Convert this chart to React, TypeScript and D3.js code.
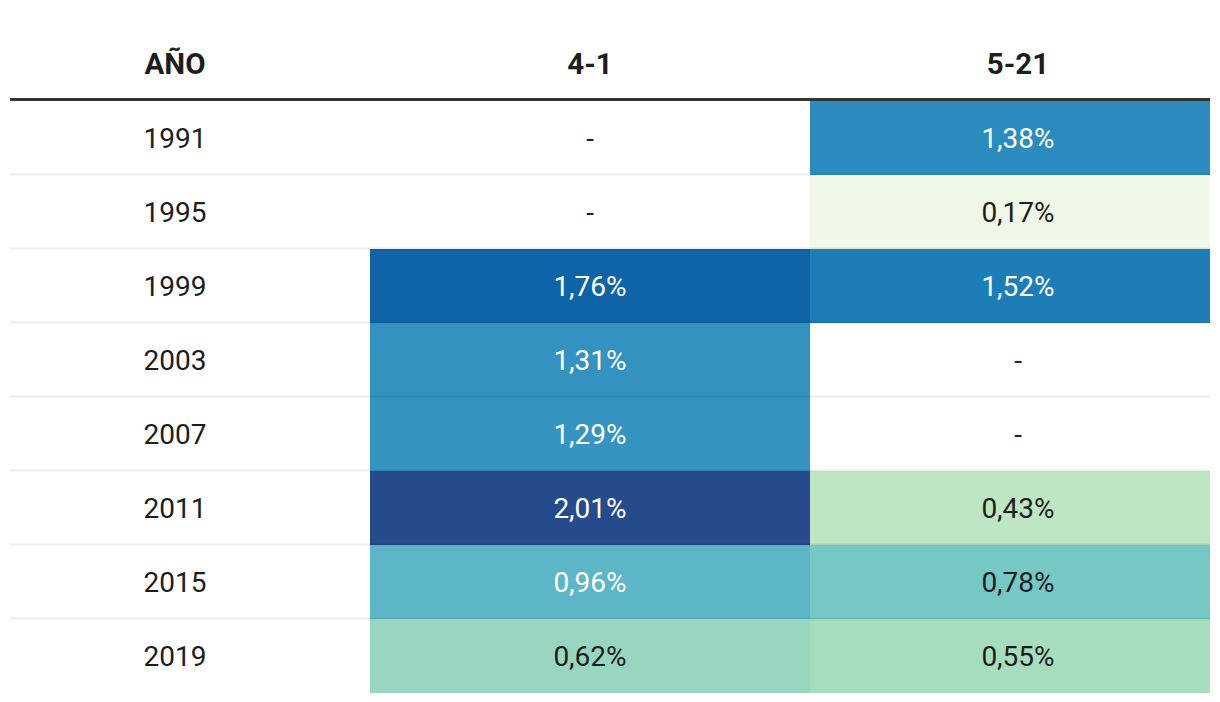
import React from "react";
import * as d3 from "d3";

const columns = ["AÑO", "4-1", "5-21"];
const years = ["1991", "1995", "1999", "2003", "2007", "2011", "2015", "2019"];
const values41: (number | null)[] = [null, null, 1.76, 1.31, 1.29, 2.01, 0.96, 0.62];
const values521: (number | null)[] = [1.38, 0.17, 1.52, null, null, 0.43, 0.78, 0.55];
const palette = ["#f0f9e8", "#b6e3bb", "#75c8c5", "#4ba8c9", "#2989bd", "#0a6aad", "#254b8c"];

const W = 1220;
const H = 702;

export default function App() {
  const all = [...values41, ...values521].filter((v): v is number => v != null);
  const [mn, mx] = d3.extent(all) as [number, number];
  const stops = palette.map((_, i) => mn + ((mx - mn) * i) / (palette.length - 1));
  const color = d3.scaleLinear<string>().domain(stops).range(palette).interpolate(d3.interpolateRgb);

  const colEdges = [10, 370, 810, 1210];
  const colText = [175, 590, 1018];
  const headerBase = 74;
  const lineY = 99.5;
  const y = d3.scaleBand<string>().domain(years).range([101, 693]).padding(0);

  const fmt = (v: number | null) => (v == null ? "-" : v.toFixed(2).replace(".", ",") + "%");
  const textColor = (v: number | null) => {
    if (v == null) return "#222";
    const c = d3.lab(color(v));
    return c.l < 72 ? "#ffffff" : "#1d1d1d";
  };

  const series = [values41, values521];

  return (
    <svg width={W} height={H} style={{ position: "absolute", left: 0, top: 0, fontFamily: "Roboto, sans-serif" }}>
      <rect x={0} y={0} width={W} height={H} fill="#fff" />
      {columns.map((c, i) => (
        <text key={c} x={colText[i]} y={headerBase} textAnchor="middle" fontSize={29.5} fontWeight={700} fill="#1d1d1d">
          {c}
        </text>
      ))}
      {years.map((yr, r) => (
        <g key={yr}>
          {series.map((s, j) => {
            const v = s[r];
            return v == null ? null : (
              <rect key={j} x={colEdges[j + 1]} y={y(yr)!} width={colEdges[j + 2] - colEdges[j + 1]} height={y.bandwidth()} fill={color(v)} />
            );
          })}
        </g>
      ))}
      {years.slice(1).map((yr) => (
        <line key={yr} x1={10} x2={1210} y1={y(yr)! - 0.5} y2={y(yr)! - 0.5} stroke="rgba(0,0,0,0.07)" strokeWidth={2} />
      ))}
      <line x1={10} x2={1210} y1={lineY} y2={lineY} stroke="#333" strokeWidth={3} />
      {years.map((yr, r) => {
        const cy = y(yr)! + y.bandwidth() / 2 + 10;
        return (
          <g key={yr}>
            <text x={colText[0]} y={cy} textAnchor="middle" fontSize={28} fill="#1d1d1d">{yr}</text>
            {series.map((s, j) => (
              <text key={j} x={colText[j + 1]} y={cy} textAnchor="middle" fontSize={28} fill={textColor(s[r])}>
                {fmt(s[r])}
              </text>
            ))}
          </g>
        );
      })}
    </svg>
  );
}
